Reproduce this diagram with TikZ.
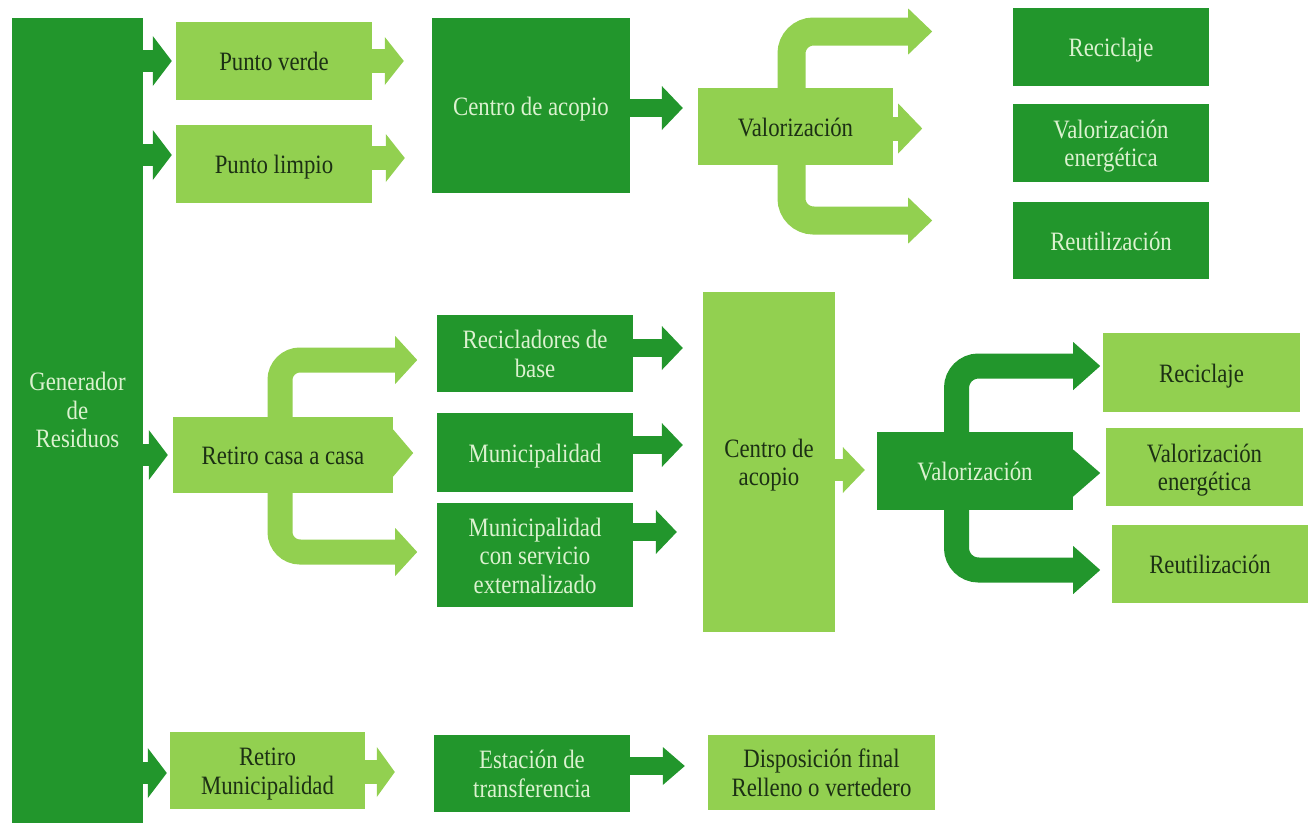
\documentclass[tikz,border=0pt]{standalone}
\usepackage{fontspec}
\setmainfont{Liberation Serif}
\usetikzlibrary{arrows.meta,calc}
\definecolor{dgreen}{RGB}{34,150,44}
\definecolor{lgreen}{RGB}{146,208,80}
\definecolor{ltext}{RGB}{28,48,20}
\definecolor{dtext}{RGB}{220,242,208}
\newcommand\boxfont{\fontsize{26.5}{28.5}\selectfont}
\newcommand\sqr[2]{\raisebox{#1}[\height][\depth]{\scalebox{0.86}[1]{\begin{tabular}{@{}c@{}}#2\end{tabular}}}}
\newcommand\sq[1]{\sqr{-4pt}{#1}}
\tikzset{
  box/.style={rectangle, inner sep=0pt, align=center, font=\boxfont},
  lbox/.style={box, fill=lgreen, text=ltext},
  dbox/.style={box, fill=dgreen, text=dtext},
  ba/.style n args={4}{draw=#1, line width=#2, -{Triangle[length=#3,width=#4,line width=0pt]}},
  garr/.style={ba={dgreen}{22pt}{19pt}{50pt}},
  larr/.style={ba={lgreen}{24pt}{19pt}{48pt}},
  darr/.style={ba={dgreen}{18pt}{21pt}{44pt}},
  lbr/.style={ba={lgreen}{28pt}{24pt}{46pt}, rounded corners=22pt},
  rcbr/.style={ba={lgreen}{25pt}{22pt}{48pt}, rounded corners=20pt},
  dbr/.style={ba={dgreen}{25pt}{27pt}{48pt}, rounded corners=22pt},
}
\begin{document}
\begin{tikzpicture}[x=1pt,y=-1pt]
\useasboundingbox (0,0) rectangle (1309,823);
\fill[white] (0,0) rectangle (1309,823);

% nodes
\node[dbox, minimum width=131, minimum height=805] (gen) at (77.5,420.5) {\sqr{7pt}{Generador\\de\\Residuos}};
\node[lbox, minimum width=196, minimum height=78] (pv) at (274,61) {\sq{Punto verde}};
\node[lbox, minimum width=196, minimum height=78] (pl) at (274,164) {\sq{Punto limpio}};
\node[dbox, minimum width=198, minimum height=175] (ca1) at (531,105.5) {\sq{Centro de acopio}};
\node[lbox, minimum width=195, minimum height=77] (val1) at (795.5,126.5) {\sq{Valorización}};
\node[dbox, minimum width=196, minimum height=78] (r1) at (1111,47) {\sq{Reciclaje}};
\node[dbox, minimum width=196, minimum height=78] (ve1) at (1111,143) {\sq{Valorización\\energética}};
\node[dbox, minimum width=196, minimum height=77] (ru1) at (1111,240.5) {\sq{Reutilización}};

\node[lbox, minimum width=220, minimum height=76] (rc) at (283,455) {\sq{Retiro casa a casa}};
\node[dbox, minimum width=196, minimum height=77] (rb) at (535,353.5) {\sq{Recicladores de\\base}};
\node[dbox, minimum width=196, minimum height=79] (mu) at (535,452.5) {\sq{Municipalidad}};
\node[dbox, minimum width=196, minimum height=104] (mx) at (535,555) {\sq{Municipalidad\\con servicio\\externalizado}};
\node[lbox, minimum width=132, minimum height=340] (ca2) at (769,462) {\sq{Centro de\\acopio}};
\node[dbox, minimum width=196, minimum height=78] (val2) at (975,471) {\sq{Valorización}};
\node[lbox, minimum width=197, minimum height=79] (r2) at (1201.5,372.5) {\sq{Reciclaje}};
\node[lbox, minimum width=197, minimum height=78] (ve2) at (1204.5,467) {\sq{Valorización\\energética}};
\node[lbox, minimum width=196, minimum height=78] (ru2) at (1210,564) {\sq{Reutilización}};

\node[lbox, minimum width=195, minimum height=77] (rm) at (267.5,770.5) {\sq{Retiro\\Municipalidad}};
\node[dbox, minimum width=196, minimum height=77] (et) at (532,773.5) {\sq{Estación de\\transferencia}};
\node[lbox, minimum width=227, minimum height=75] (df) at (821.5,772.5) {\sq{Disposición final\\Relleno o vertedero}};

% arrows from the generator
\draw[garr] (gen.east |- pv.west) -- ($(pv.west)+(-4,0)$);
\coordinate (t1) at ($(pl.west)+(-4,-9)$);
\draw[garr] (gen.east |- t1) -- (t1);
\draw[garr] (gen.east |- rc.west) -- ($(rc.west)+(-5,0)$);
\coordinate (t2) at ($(rm.west)+(-3,2.5)$);
\draw[garr] (gen.east |- t2) -- (t2);

% top row
\draw[larr, shorten >=28pt] (pv.east) -- (pv.east -| ca1.west);
\coordinate (t3) at ($(pl.east)+(0,-6)$);
\draw[larr, shorten >=27pt] (t3) -- (t3 -| ca1.west);
\coordinate (t4) at ($(ca1.east)+(0,2.5)$);
\draw[darr, shorten >=15pt] (t4) -- (t4 -| val1.west);
\draw[lbr] ($(val1.north)+(-4,1)$) |- ($(val1.east)+(39,-95)$);
\draw[lbr] ($(val1.south)+(-4,-1)$) |- ($(val1.east)+(39,94)$);
\draw[ba={lgreen}{24pt}{24pt}{50pt}] ($(val1.east)+(-2,2)$) -- ($(val1.east)+(29,2)$);

% middle row
\draw[rcbr] ($(rc.north)+(-3,1)$) |- ($(rc.east)+(24,-95)$);
\draw[rcbr] ($(rc.south)+(-3,-1)$) |- ($(rc.east)+(24,97)$);
\draw[ba={lgreen}{24pt}{20pt}{47pt}] ($(rc.east)+(-2,-2)$) -- ($(rc.east)+(20,-2)$);
\coordinate (t5) at ($(rb.east)+(0,-5.5)$);
\draw[darr, shorten >=20pt] (t5) -- (t5 -| ca2.west);
\coordinate (t6) at ($(mu.east)+(0,-7.5)$);
\draw[darr, shorten >=20pt] (t6) -- (t6 -| ca2.west);
\coordinate (t7) at ($(mx.east)+(0,-23)$);
\draw[darr, shorten >=26pt] (t7) -- (t7 -| ca2.west);
\coordinate (t8) at ($(ca2.east)+(0,8)$);
\draw[ba={lgreen}{22pt}{22pt}{46pt}, shorten >=12pt] (t8) -- (t8 -| val2.west);
\draw[dbr] ($(val2.north)+(-18.5,1)$) |- ($(val2.east)+(27,-105)$);
\draw[dbr] ($(val2.south)+(-18.5,-1)$) |- ($(val2.east)+(27,99)$);
\draw[ba={dgreen}{24pt}{27pt}{47pt}] ($(val2.east)+(-2,2)$) -- ($(val2.east)+(27,2)$);

% bottom row
\coordinate (t9) at ($(rm.east)+(0,1.5)$);
\draw[ba={lgreen}{24pt}{18pt}{50pt}, shorten >=39pt] (t9) -- (t9 -| et.west);
\coordinate (t10) at ($(et.east)+(0,-7.5)$);
\draw[ba={dgreen}{18pt}{22pt}{38pt}, shorten >=23pt] (t10) -- (t10 -| df.west);
\end{tikzpicture}
\end{document}
